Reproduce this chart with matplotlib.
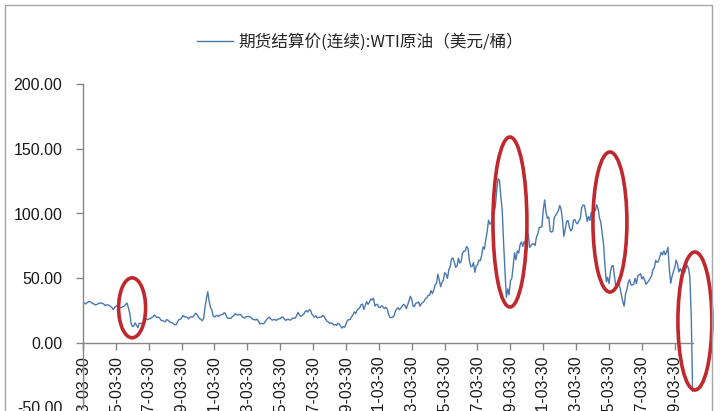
import matplotlib
matplotlib.use("Agg")
import matplotlib.pyplot as plt
import matplotlib.dates as mdates
from matplotlib.patches import Ellipse, Rectangle
import pandas as pd
import numpy as np

plt.rcParams['font.family'] = ['Liberation Sans', 'Noto Sans CJK SC', 'DejaVu Sans']

# ---- data: WTI continuous futures settlement (USD/bbl), monthly, from 1983-04 ----
start_month = '1983-04-30'
wti_values = [
    # 1983 Apr-Dec
    30.6, 30.0, 31.0, 31.7, 31.9, 31.1, 30.4, 29.8, 29.2,
    # 1984
    29.7, 30.1, 30.8, 30.6, 30.5, 30.0, 28.8, 29.3, 29.3, 28.8, 28.1, 27.2,
    # 1985
    25.6, 27.3, 28.2, 28.8, 27.6, 27.1, 27.3, 27.8, 28.3, 29.5, 30.8, 27.2,
    # 1986
    22.9, 15.4, 12.6, 12.8, 15.4, 13.5, 11.6, 15.1, 14.9, 14.9, 15.2, 16.1,
    # 1987
    18.7, 17.8, 18.3, 18.6, 19.4, 20.0, 21.4, 20.3, 19.5, 19.8, 18.9, 17.3,
    # 1988
    17.1, 16.7, 16.2, 17.9, 17.4, 16.5, 15.5, 15.5, 14.5, 13.8, 14.0, 16.3,
    # 1989
    18.0, 17.9, 19.4, 21.0, 20.0, 20.0, 19.6, 18.4, 19.6, 20.1, 19.8, 21.1,
    # 1990
    22.9, 22.1, 20.4, 18.6, 18.2, 16.9, 18.6, 27.2, 33.7, 39.5, 32.3, 27.3,
    # 1991
    25.2, 20.5, 19.9, 20.8, 21.2, 20.2, 21.4, 21.7, 21.9, 23.2, 22.5, 19.5,
    # 1992
    18.8, 19.0, 18.9, 20.2, 20.9, 22.4, 21.8, 21.4, 21.9, 21.7, 20.3, 19.4,
    # 1993
    19.1, 20.1, 20.3, 20.3, 19.9, 19.1, 17.9, 18.0, 17.5, 18.2, 16.7, 14.5,
    # 1994
    15.0, 14.8, 14.7, 16.4, 17.9, 19.1, 19.7, 18.4, 17.5, 17.7, 18.1, 17.2,
    # 1995
    18.0, 18.5, 18.6, 19.9, 19.7, 18.4, 17.3, 18.0, 18.2, 17.4, 18.0, 19.0,
    # 1996
    18.9, 19.1, 21.3, 23.5, 21.2, 20.4, 21.3, 21.9, 23.9, 24.9, 23.7, 25.4,
    # 1997
    25.2, 22.2, 21.0, 19.7, 20.8, 19.2, 19.6, 19.9, 19.8, 21.3, 20.2, 18.3,
    # 1998
    16.7, 16.1, 15.0, 15.4, 14.9, 13.7, 14.1, 13.4, 15.0, 14.4, 12.9, 11.3,
    # 1999
    12.5, 12.0, 14.7, 17.3, 17.8, 17.9, 20.1, 21.3, 23.9, 22.6, 25.0, 26.1,
    # 2000
    27.2, 29.4, 29.9, 25.7, 28.8, 31.8, 29.7, 31.3, 33.9, 33.1, 34.4, 28.4,
    # 2001
    29.6, 29.6, 27.2, 27.4, 28.6, 27.6, 26.4, 27.4, 26.2, 22.2, 19.6, 19.4,
    # 2002
    19.7, 20.7, 24.4, 26.2, 27.0, 25.5, 26.9, 28.4, 29.7, 28.9, 26.3, 29.4,
    # 2003
    32.9, 35.9, 33.5, 28.3, 28.1, 30.7, 30.8, 31.6, 28.3, 30.3, 31.1, 32.1,
    # 2004
    34.3, 34.7, 36.7, 36.7, 40.3, 38.0, 40.7, 44.9, 45.9, 53.1, 48.5, 43.3,
    # 2005
    46.8, 48.1, 54.2, 53.0, 49.8, 56.3, 58.7, 65.0, 65.6, 62.4, 58.3, 59.4,
    # 2006
    65.5, 61.6, 62.7, 69.4, 70.8, 70.9, 74.4, 73.0, 63.8, 58.9, 59.1, 62.0,
    # 2007
    54.5, 59.3, 60.4, 63.9, 63.5, 67.5, 74.1, 72.4, 79.9, 85.8, 94.8, 91.7,
    # 2008
    93.0, 95.4, 100.5, 105.6, 118.4, 127.0, 125.4, 112.7, 102.1, 76.6, 55.3, 35.1,
    # 2009
    41.7, 37.1, 47.9, 49.6, 59.0, 69.6, 64.2, 71.1, 69.4, 75.7, 78.0, 74.5,
    # 2010
    78.3, 76.4, 81.2, 84.3, 73.7, 75.3, 76.3, 76.6, 75.2, 81.9, 84.3, 89.2,
    # 2011
    89.5, 89.6, 102.9, 110.5, 100.9, 96.3, 97.3, 86.3, 85.6, 86.4, 97.2, 98.6,
    # 2012
    100.3, 102.2, 106.2, 103.3, 94.7, 82.3, 87.9, 94.1, 94.5, 89.5, 86.5, 87.9,
    # 2013
    94.8, 95.3, 92.9, 92.0, 94.5, 95.8, 104.6, 106.6, 106.3, 100.5, 93.9, 97.6,
    # 2014
    94.6, 100.8, 100.8, 102.1, 102.2, 106.8, 103.6, 96.5, 93.2, 84.4, 75.8, 59.3,
    # 2015
    47.2, 50.6, 45.8, 54.5, 59.3, 59.8, 50.9, 42.9, 45.5, 46.2, 42.4, 37.2,
    # 2016
    31.7, 28.3, 37.5, 40.8, 46.7, 48.8, 44.7, 44.7, 45.2, 49.8, 45.7, 52.0,
    # 2017
    52.5, 53.5, 49.3, 51.1, 48.5, 45.2, 46.6, 48.0, 49.8, 51.6, 56.6, 57.9,
    # 2018
    63.7, 62.2, 62.7, 66.3, 70.0, 67.9, 71.0, 68.1, 70.2, 73.8, 56.7, 46.0,
    # 2019
    51.6, 54.9, 58.2, 63.9, 60.8, 54.7, 57.4, 54.8, 57.0, 54.0, 57.1, 59.9,
    # 2020 Jan-Apr
    57.5, 50.5, 20.5, -37.6,
]
tick_years = list(range(1983, 2020, 2))
tick_labels = [f"{y}-03-30" for y in tick_years]
legend_label = "期货结算价(连续):WTI原油（美元/桶）"
y_ticks = [-50, 0, 50, 100, 150, 200]

# circled episodes: (center date, center value, width days, height value)
circle_dates = ['1986-03-25', '2009-03-20', '2015-04-20', '2020-06-20']
circle_values = [27.0, 93.4, 93.4, 16.8]
circle_widths = [600, 755, 755, 755]
circle_heights = [46.4, 131.6, 108.4, 106.8]

dates = pd.date_range(start_month, periods=len(wti_values), freq='ME')

line_color = '#4a78b0'
W, H = 720, 411
fig = plt.figure(figsize=(W / 100, H / 100), dpi=100)
fig.patch.set_facecolor('white')

# outer chart-area border
fig.patches.append(Rectangle((5 / W, -0.05), (712 - 5) / W, (411 - 5) / H + 0.05,
                             transform=fig.transFigure, fill=False,
                             edgecolor='#a6a6a6', linewidth=1.0))

ax = fig.add_axes([83 / W, (411 - 407.3) / H, (692.6 - 83) / W, (407.3 - 84.3) / H])
ax.plot(dates, wti_values, color=line_color, linewidth=1.0, label=legend_label)

ax.set_ylim(-50, 200)
ax.set_xlim(pd.Timestamp('1983-03-30'), pd.Timestamp('2020-04-30'))
ax.set_yticks(y_ticks)
ax.set_yticklabels([f"{v:.2f}" for v in y_ticks])
ax.set_xticks([pd.Timestamp(t) for t in tick_labels])
ax.set_xticklabels(tick_labels)

for s in ['top', 'right']:
    ax.spines[s].set_visible(False)
ax.spines['bottom'].set_position(('data', 0))
for s in ['left', 'bottom']:
    ax.spines[s].set_color('#868686')
    ax.spines[s].set_linewidth(1.0)
ax.tick_params(axis='both', direction='out', length=5, width=1.0, color='#868686',
               labelsize=11.5, labelcolor='#1a1a1a')
ax.tick_params(axis='x', pad=4, labelrotation=90)
ax.tick_params(axis='y', pad=10)
for lbl in ax.get_xticklabels():
    lbl.set_va('top')
    lbl.set_ha('center')
    lbl.set_rotation_mode('default')

for d, v, w, h in zip(circle_dates, circle_values, circle_widths, circle_heights):
    e = Ellipse((mdates.date2num(pd.Timestamp(d)), v), w, h, fill=False,
                edgecolor='#c0282d', linewidth=2.6, clip_on=False, zorder=5)
    ax.add_patch(e)

leg = fig.legend(loc='center', bbox_to_anchor=(0.5, 1 - 42 / H), frameon=False,
                 handlelength=2.2, handletextpad=0.3,
                 prop={'family': ['Noto Sans CJK SC', 'DejaVu Sans'], 'size': 12})
for t in leg.get_texts():
    t.set_color('#262626')

fig.savefig('out.png', dpi=100)
